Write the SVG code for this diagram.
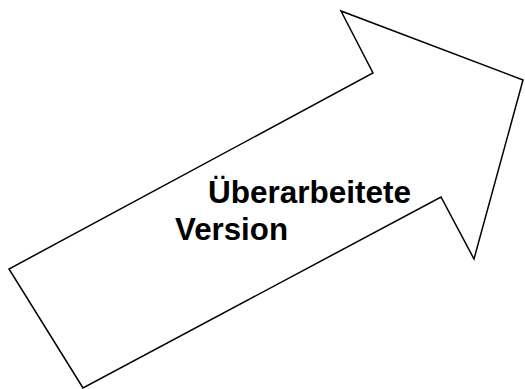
<svg xmlns="http://www.w3.org/2000/svg" width="525" height="389" viewBox="0 0 525 389">
<style>
.shape{fill:#fff;stroke:#000;stroke-width:1.5;stroke-linejoin:miter}
.lbl{font-family:"Liberation Sans",Arial,sans-serif;font-weight:bold;font-size:31px;fill:#000}
</style>
<rect width="525" height="389" fill="#fff"/>
<g id="arrow">
<polygon class="shape" points="341,11 373,73 9,269 83,388 441,197 474,259 523,80"/>
<text class="lbl" x="208" y="203" textLength="203" lengthAdjust="spacingAndGlyphs">Überarbeitete</text>
<text class="lbl" x="175" y="240" textLength="113" lengthAdjust="spacingAndGlyphs">Version</text>
</g>
</svg>
